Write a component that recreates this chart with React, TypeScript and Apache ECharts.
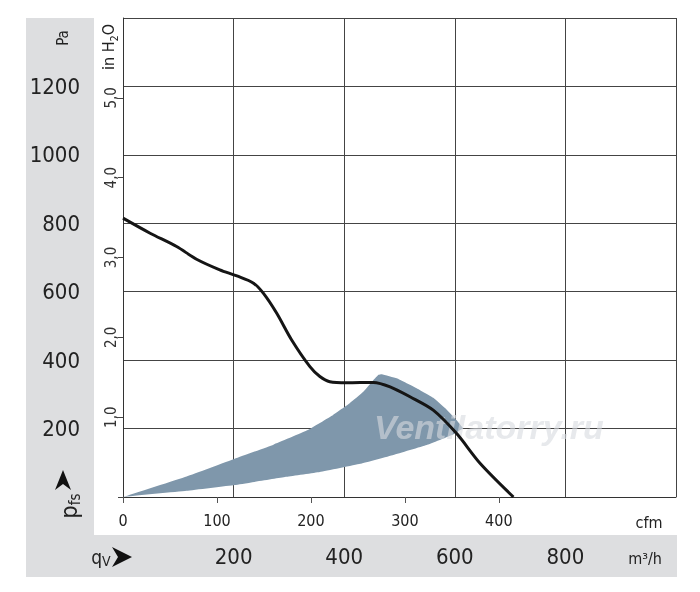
import React, { useEffect, useRef } from "react";
import * as echarts from "echarts";

// Fan curve: flow q_V [m³/h] vs static pressure p_fs [Pa]
const curveFlow = [0, 49, 97, 133, 175, 206, 236, 254, 278, 305, 338, 356, 374, 405, 453, 483, 519, 561, 603, 646, 706];
const curvePressure = [815, 771, 732, 695, 664, 646, 625, 595, 537, 459, 381, 352, 337, 334, 335, 322, 293, 254, 186, 98, 0];

// Shaded operating range: upper boundary (from origin over the tip to the right end)
const areaUpperFlow = [0, 115, 202, 272, 332, 380, 410, 435, 453, 462, 468, 495, 531, 561, 585, 603, 615];
const areaUpperPressure = [0, 60, 112, 153, 194, 240, 274, 308, 342, 357, 359, 347, 318, 290, 256, 225, 201];
// lower boundary (from origin to the right end)
const areaLowerFlow = [0, 115, 202, 296, 356, 429, 489, 549, 597, 615];
const areaLowerPressure = [0, 18, 35, 59, 73, 97, 123, 152, 183, 201];

// Axis ticks
const paLabels = [200, 400, 600, 800, 1000, 1200];
const m3hLabels = [200, 400, 600, 800];
const cfmTicks = [0, 100, 200, 300, 400, 500];
const inH2OTicks = [0, 1, 2, 3, 4, 5];
const inH2OLabels = [1, 2, 3, 4, 5];

const PA_MAX = 1400;
const M3H_MAX = 1000;
const CFM_MAX = 1000 / 1.699;
const INH2O_MAX = 6;

const FONT = '"Liberation Sans Narrow", "DejaVu Sans Condensed", "Liberation Sans", sans-serif';
const TEXT = "#222";
const GRID = "#444";
const PANEL = "#dddee0";

export default function App() {
  const ref = useRef<HTMLDivElement>(null);

  useEffect(() => {
    if (!ref.current) return;
    const chart = echarts.init(ref.current, null, { renderer: "svg" });

    const curve = curveFlow.map((f, i) => [f, curvePressure[i]]);
    const upper = areaUpperFlow.map((f, i) => [f, areaUpperPressure[i]]);
    const lower = areaLowerFlow.map((f, i) => [f, areaLowerPressure[i]]);
    const polygon = upper.concat(lower.slice().reverse());

    const option: any = {
      animation: false,
      textStyle: { fontFamily: FONT },
      grid: { left: 123, top: 18, width: 553, height: 479, containLabel: false },
      xAxis: [
        {
          type: "value",
          min: 0,
          max: M3H_MAX,
          interval: 200,
          position: "bottom",
          axisLine: { show: true, lineStyle: { color: "#333", width: 1 } },
          axisTick: { show: false },
          splitLine: { show: true, lineStyle: { color: GRID, width: 1 } },
          axisLabel: {
            margin: 48,
            fontSize: 22,
            color: TEXT,
            fontFamily: FONT,
            customValues: m3hLabels,
            formatter: (v: number) => (m3hLabels.indexOf(v) >= 0 ? String(v) : ""),
          },
        },
        {
          type: "value",
          min: 0,
          max: CFM_MAX,
          interval: 100,
          position: "bottom",
          axisLine: { show: false },
          axisTick: { show: true, length: 6, lineStyle: { color: "#555" }, customValues: cfmTicks },
          splitLine: { show: false },
          axisLabel: {
            margin: 15,
            fontSize: 16,
            color: TEXT,
            fontFamily: FONT,
            showMaxLabel: false,
            customValues: cfmTicks,
            formatter: (v: number) => (cfmTicks.indexOf(v) >= 0 ? String(v) : ""),
          },
        },
      ],
      yAxis: [
        {
          type: "value",
          min: 0,
          max: PA_MAX,
          interval: 200,
          position: "left",
          axisLine: { show: true, lineStyle: { color: "#333", width: 1 } },
          axisTick: { show: false },
          splitLine: { show: true, lineStyle: { color: GRID, width: 1 } },
          axisLabel: {
            margin: 43,
            fontSize: 22,
            color: TEXT,
            fontFamily: FONT,
            customValues: paLabels,
            formatter: (v: number) => (paLabels.indexOf(v) >= 0 ? String(v) : ""),
          },
        },
        {
          type: "value",
          min: 0,
          max: INH2O_MAX,
          interval: 1,
          position: "left",
          offset: 0,
          axisLine: { show: false },
          axisTick: { show: true, length: 5, lineStyle: { color: "#444" }, customValues: inH2OTicks },
          splitLine: { show: false },
          axisLabel: {
            rotate: 90,
            margin: 5,
            fontSize: 15,
            color: "#333",
            fontFamily: FONT,
            customValues: inH2OLabels,
            formatter: (v: number) => (inH2OLabels.indexOf(v) >= 0 ? v + ",0" : ""),
          },
        },
      ],
      graphic: [
        { type: "rect", z: -10, silent: true, shape: { x: 26, y: 18, width: 68, height: 559 }, style: { fill: PANEL } },
        { type: "rect", z: -10, silent: true, shape: { x: 26, y: 535, width: 651, height: 42 }, style: { fill: PANEL } },
        {
          type: "text",
          x: 63,
          y: 38,
          rotation: Math.PI / 2,
          style: { text: "Pa", font: `15px ${FONT}`, fill: TEXT, textAlign: "center", textVerticalAlign: "middle" },
        },
        {
          type: "text",
          x: 109,
          y: 47,
          rotation: Math.PI / 2,
          style: {
            text: "{a|in H}{s|2}{a|O}",
            fill: TEXT,
            textAlign: "center",
            textVerticalAlign: "middle",
            rich: {
              a: { fontSize: 16, fontFamily: FONT, lineHeight: 18, verticalAlign: "top", fill: TEXT },
              s: { fontSize: 11, fontFamily: FONT, lineHeight: 10, verticalAlign: "top", padding: [9, 0, 0, 0], fill: TEXT },
            },
          },
        },
        {
          type: "text",
          x: 68,
          y: 506,
          rotation: Math.PI / 2,
          style: {
            text: "{a|p}{s|fs}",
            fill: TEXT,
            textAlign: "center",
            textVerticalAlign: "middle",
            rich: {
              a: { fontSize: 23, fontFamily: FONT, lineHeight: 22, verticalAlign: "top", fill: TEXT },
              s: { fontSize: 15, fontFamily: FONT, lineHeight: 14, verticalAlign: "top", padding: [10, 0, 0, 0], fill: TEXT },
            },
          },
        },
        {
          type: "polygon",
          shape: { points: [[63, 470], [71, 490], [63, 484], [55, 490]] },
          style: { fill: "#111" },
        },
        {
          type: "text",
          x: 101,
          y: 556,
          style: {
            text: "{a|q}{s|V}",
            fill: TEXT,
            textAlign: "center",
            textVerticalAlign: "middle",
            rich: {
              a: { fontSize: 19, fontFamily: FONT, lineHeight: 18, verticalAlign: "top", fill: TEXT },
              s: { fontSize: 14, fontFamily: FONT, lineHeight: 12, verticalAlign: "top", padding: [7, 0, 0, 0], fill: TEXT },
            },
          },
        },
        {
          type: "polygon",
          shape: { points: [[132, 557], [112, 547], [118, 557], [112, 567]] },
          style: { fill: "#111" },
        },
        {
          type: "text",
          x: 649,
          y: 522,
          style: { text: "cfm", font: `16px ${FONT}`, fill: TEXT, textAlign: "center", textVerticalAlign: "middle" },
        },
        {
          type: "text",
          x: 645,
          y: 558,
          style: { text: "m³/h", font: `16px ${FONT}`, fill: TEXT, textAlign: "center", textVerticalAlign: "middle" },
        },
        {
          type: "text",
          z: 3,
          x: 374,
          y: 444,
          silent: true,
          style: {
            text: "Ventilatorry.ru",
            font: `italic bold 34px "Liberation Sans", Arial, sans-serif`,
            fill: "rgba(215,219,224,0.6)",
            textAlign: "left",
            textVerticalAlign: "bottom",
          },
        },
      ],
      series: [
        {
          type: "custom",
          xAxisIndex: 0,
          yAxisIndex: 0,
          z: 2,
          silent: true,
          data: [[0, 0]],
          renderItem: (_params: any, api: any) => ({
            type: "polygon",
            shape: { points: polygon.map((p) => api.coord(p)), smooth: 0.1 },
            style: { fill: "#7f97ab" },
          }),
        },
        {
          type: "line",
          xAxisIndex: 0,
          yAxisIndex: 0,
          z: 5,
          data: curve,
          smooth: 0.3,
          symbol: "none",
          lineStyle: { color: "#151515", width: 3 },
        },
      ],
    };

    chart.setOption(option);
    return () => chart.dispose();
  }, []);

  return <div ref={ref} style={{ position: "fixed", left: 0, top: 0, width: 700, height: 592 }} />;
}
